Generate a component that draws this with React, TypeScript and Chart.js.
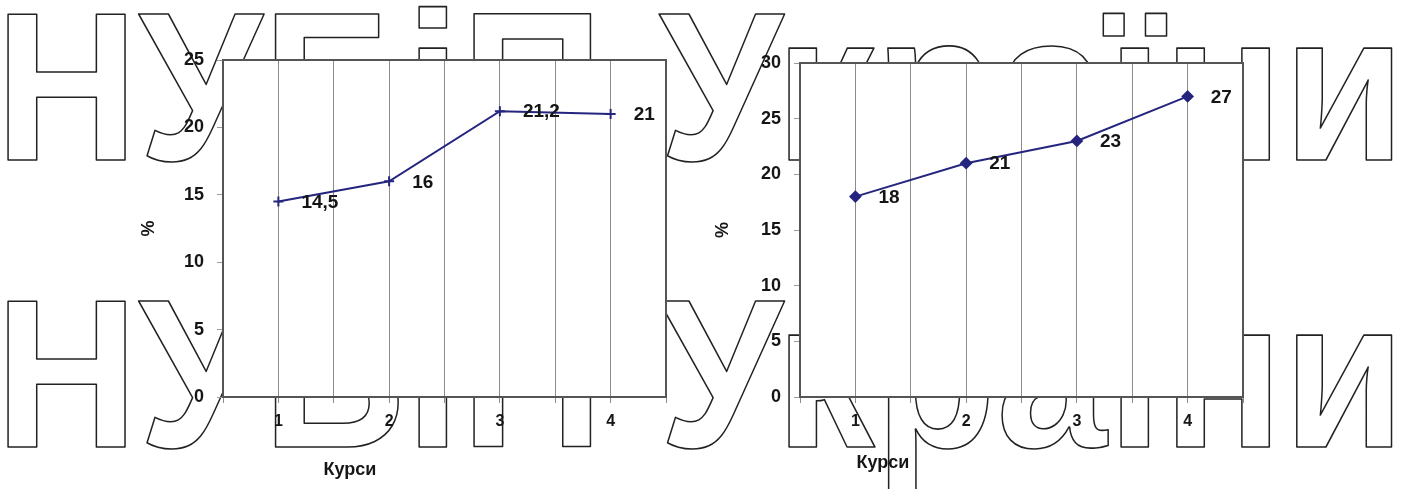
import React, { useEffect, useRef } from 'react';
import { Chart, registerables } from 'chart.js';

Chart.register(...registerables);

// ---- data ----
const courses = [1, 2, 3, 4];
const leftValues = [14.5, 16, 21.2, 21];
const rightValues = [18, 21, 23, 27];
const leftYMax = 25;
const rightYMax = 30;
const yStep = 5;
const xAxisTitle = 'Курси';
const yAxisTitle = '%';
const watermarkText = 'НУБіП України';

// ---- style ----
const FONT = '"Liberation Sans", Arial, sans-serif';
const LINE = '#25257f';
const INK = '#151515';
const PAGE_W = 1405;
const PAGE_H = 489;

type Geom = {
  canvasLeft: number;
  canvasWidth: number;
  plotLeft: number;
  plotRight: number;
  plotTop: number;
  plotBottom: number;
  yTitlePad: number;
  xTitleX: number;
  xTitleY: number;
  pointStyle: string;
  pointRadius: number;
  filled: boolean;
};

const leftGeom: Geom = {
  canvasLeft: 130,
  canvasWidth: 560,
  plotLeft: 223,
  plotRight: 666,
  plotTop: 60,
  plotBottom: 397,
  yTitlePad: 8,
  xTitleX: 350,
  xTitleY: 470,
  pointStyle: 'cross',
  pointRadius: 5,
  filled: false,
};

const rightGeom: Geom = {
  canvasLeft: 690,
  canvasWidth: 580,
  plotLeft: 800,
  plotRight: 1243,
  plotTop: 63,
  plotBottom: 397,
  yTitlePad: 22,
  xTitleX: 883,
  xTitleY: 463,
  pointStyle: 'rectRot',
  pointRadius: 5,
  filled: true,
};

const fmt = (v: number) => String(v).replace('.', ',');

function buildConfig(values: number[], yMax: number, g: Geom): any {
  const yWidth = g.plotLeft - g.canvasLeft;
  const padRight = g.canvasLeft + g.canvasWidth - g.plotRight;
  const xHeight = PAGE_H - g.plotBottom;

  const plotBackground = {
    id: 'plotBackground',
    beforeDraw(chart: any) {
      const { ctx, chartArea: a } = chart;
      ctx.save();
      ctx.fillStyle = '#ffffff';
      ctx.fillRect(a.left, a.top, a.right - a.left, a.bottom - a.top);
      ctx.restore();
    },
  };

  const frame = {
    id: 'frame',
    afterDraw(chart: any) {
      const { ctx, chartArea: a } = chart;
      ctx.save();
      ctx.strokeStyle = '#555555';
      ctx.lineWidth = 2;
      ctx.strokeRect(a.left, a.top, a.right - a.left, a.bottom - a.top);
      ctx.restore();
    },
  };

  const dataLabels = {
    id: 'dataLabels',
    afterDatasetsDraw(chart: any) {
      const { ctx } = chart;
      const meta = chart.getDatasetMeta(0);
      ctx.save();
      ctx.font = `bold 19px ${FONT}`;
      ctx.fillStyle = INK;
      ctx.textAlign = 'left';
      ctx.textBaseline = 'middle';
      meta.data.forEach((pt: any, i: number) => {
        ctx.fillText(fmt(values[i]), pt.x + 23, pt.y + 1);
      });
      ctx.restore();
    },
  };

  const xTitle = {
    id: 'xTitle',
    afterDraw(chart: any) {
      const { ctx } = chart;
      ctx.save();
      ctx.font = `bold 18px ${FONT}`;
      ctx.fillStyle = INK;
      ctx.textAlign = 'center';
      ctx.textBaseline = 'middle';
      ctx.fillText(xAxisTitle, g.xTitleX - g.canvasLeft, g.xTitleY);
      ctx.restore();
    },
  };

  return {
    type: 'line',
    data: {
      datasets: [
        {
          data: courses.map((c, i) => ({ x: c, y: values[i] })),
          borderColor: LINE,
          borderWidth: 2,
          pointStyle: g.pointStyle,
          pointRadius: g.pointRadius,
          pointBorderWidth: 2,
          pointBorderColor: LINE,
          pointBackgroundColor: g.filled ? LINE : 'rgba(0,0,0,0)',
          tension: 0,
          fill: false,
        },
      ],
    },
    options: {
      responsive: false,
      maintainAspectRatio: false,
      animation: false,
      devicePixelRatio: 1,
      layout: { padding: { top: g.plotTop, right: padRight, left: 0, bottom: 0 } },
      plugins: {
        legend: { display: false },
        tooltip: { enabled: false },
        title: { display: false },
      },
      scales: {
        x: {
          type: 'linear',
          min: 0.5,
          max: 4.5,
          afterFit: (s: any) => {
            s.height = xHeight;
          },
          ticks: {
            stepSize: 0.5,
            autoSkip: false,
            maxRotation: 0,
            minRotation: 0,
            padding: 9,
            color: INK,
            font: { family: FONT, size: 16, weight: 'bold' },
            callback: (v: any) => (courses.includes(Number(v)) ? String(v) : ''),
          },
          grid: {
            color: '#8c8c8c',
            lineWidth: 1,
            drawTicks: true,
            tickLength: 6,
            drawOnChartArea: true,
          },
          border: { display: false },
        },
        y: {
          min: 0,
          max: yMax,
          afterFit: (s: any) => {
            s.width = yWidth;
          },
          ticks: {
            stepSize: yStep,
            padding: 13,
            color: INK,
            font: { family: FONT, size: 18, weight: 'bold' },
          },
          grid: {
            drawOnChartArea: false,
            drawTicks: true,
            tickLength: 6,
            color: '#9a9a9a',
          },
          border: { display: false },
          title: {
            display: true,
            text: yAxisTitle,
            color: INK,
            font: { family: FONT, size: 18, weight: 'bold' },
            padding: { top: g.yTitlePad, bottom: 0 },
          },
        },
      },
    },
    plugins: [plotBackground, dataLabels, frame, xTitle],
  };
}

function drawWatermark(canvas: HTMLCanvasElement) {
  const ctx = canvas.getContext('2d');
  if (!ctx) return;
  ctx.clearRect(0, 0, canvas.width, canvas.height);
  ctx.font = `bold 212px ${FONT}`;
  const m = ctx.measureText(watermarkText);
  const inkW = m.actualBoundingBoxLeft + m.actualBoundingBoxRight;
  const inkLeft = 8;
  const inkRight = 1392;
  const sx = (inkRight - inkLeft) / inkW;
  ctx.strokeStyle = '#222222';
  ctx.lineJoin = 'round';
  [160, 447].forEach((baseline) => {
    ctx.save();
    ctx.translate(inkLeft + m.actualBoundingBoxLeft * sx, baseline);
    ctx.scale(sx, 1);
    ctx.lineWidth = 1.6;
    ctx.strokeText(watermarkText, 0, 0);
    ctx.restore();
  });
}

export default function App() {
  const wmRef = useRef<HTMLCanvasElement>(null);
  const leftRef = useRef<HTMLCanvasElement>(null);
  const rightRef = useRef<HTMLCanvasElement>(null);

  useEffect(() => {
    if (wmRef.current) drawWatermark(wmRef.current);
    const c1 = new Chart(leftRef.current as HTMLCanvasElement, buildConfig(leftValues, leftYMax, leftGeom));
    const c2 = new Chart(rightRef.current as HTMLCanvasElement, buildConfig(rightValues, rightYMax, rightGeom));
    return () => {
      c1.destroy();
      c2.destroy();
    };
  }, []);

  return (
    <div
      style={{
        position: 'absolute',
        left: 0,
        top: 0,
        width: PAGE_W,
        height: PAGE_H,
        background: '#ffffff',
        overflow: 'hidden',
      }}
    >
      <canvas
        ref={wmRef}
        width={PAGE_W}
        height={PAGE_H}
        style={{ position: 'absolute', left: 0, top: 0, width: PAGE_W, height: PAGE_H }}
      />
      <canvas
        ref={leftRef}
        width={leftGeom.canvasWidth}
        height={PAGE_H}
        style={{ position: 'absolute', left: leftGeom.canvasLeft, top: 0, width: leftGeom.canvasWidth, height: PAGE_H }}
      />
      <canvas
        ref={rightRef}
        width={rightGeom.canvasWidth}
        height={PAGE_H}
        style={{ position: 'absolute', left: rightGeom.canvasLeft, top: 0, width: rightGeom.canvasWidth, height: PAGE_H }}
      />
    </div>
  );
}
